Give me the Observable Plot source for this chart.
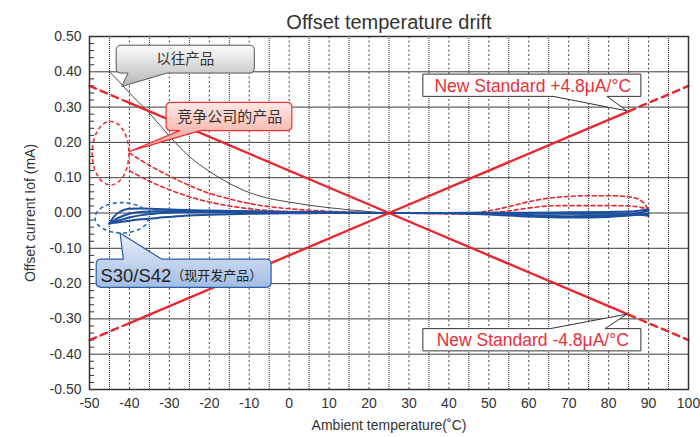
<!DOCTYPE html>
<html><head><meta charset="utf-8">
<script src="https://cdn.jsdelivr.net/npm/d3@7"></script>
<script src="https://cdn.jsdelivr.net/npm/@observablehq/plot@0.6"></script>
<style>
body{margin:0;background:#fff;}
#chart svg{display:block;}
</style>
</head><body><div id="chart"></div>
<script>
// ---- tick labels ----
const xTicks = [-50,-40,-30,-20,-10,0,10,20,30,40,50,60,70,80,90,100];
const yTicks = [-0.5,-0.4,-0.3,-0.2,-0.1,0,0.1,0.2,0.3,0.4,0.5];
const xGridTens = [-40,-30,-20,-10,0,10,20,30,40,50,60,70,80,90];
const xGridFives = [-45,-35,-25,-15,-5,5,15,25,35,45,55,65,75,85,95];
const yMinor = [-0.48,-0.46,-0.44,-0.42,-0.38,-0.36,-0.34,-0.32,-0.28,-0.26,-0.24,-0.22,-0.18,-0.16,-0.14,-0.12,-0.08,-0.06,-0.04,-0.02,0.02,0.04,0.06,0.08,0.12,0.14,0.16,0.18,0.22,0.24,0.26,0.28,0.32,0.34,0.36,0.38,0.42,0.44,0.46,0.48];

// ---- New Standard ±4.8 µA/°C ----
const stdX = [-50, -40, 25, 85, 100];
const stdPlus = [-0.36, -0.312, 0, 0.288, 0.36];
const stdMinus = [0.36, 0.312, 0, -0.288, -0.36];

// ---- previous product (以往产品) ----
const prevX = [-45,-42,-40,-35,-30,-25,-20,-15,-10,-5,0,5,10,15,20,25,40,60,80,90];
const prevY = [0.40,0.365,0.34,0.283,0.218,0.16,0.118,0.084,0.058,0.041,0.031,0.022,0.015,0.009,0.004,0,0,-0.002,-0.003,-0.002];

// ---- competitor products (竞争公司的产品) ----
const compX = [-40,-35,-30,-25,-20,-15,-10,-5,0,10,25,45,50,55,60,65,70,75,80,85,88,90];
const compA = [0.17,0.135,0.105,0.078,0.056,0.04,0.027,0.018,0.012,0.005,0,0,0.006,0.018,0.032,0.042,0.047,0.049,0.049,0.046,0.036,0.01];
const compB = [0.12,0.09,0.066,0.046,0.031,0.02,0.012,0.007,0.004,0.001,0,-0.003,0,0.006,0.014,0.02,0.021,0.021,0.021,0.02,0.016,0.01];

// ---- S30/S42 ----
const blueX = [-45,-44,-42,-40,-37,-33,-28,-20,-10,0,10,25,40,50,60,70,80,85,90];
const blue1 = [-0.03,-0.012,0.006,0.012,0.013,0.011,0.009,0.007,0.005,0.003,0.002,0,0,-0.002,-0.006,-0.009,-0.008,-0.004,0.006];
const blue2 = [-0.03,-0.022,-0.01,-0.002,0.003,0.005,0.006,0.006,0.004,0.002,0.001,0,0,0,-0.001,-0.002,-0.002,-0.003,-0.008];
const blue3 = [-0.03,-0.026,-0.019,-0.013,-0.006,-0.001,0.002,0.003,0.003,0.002,0.001,0,0,0.001,0.001,0.002,0.003,0.004,0.01];
const blue4 = [-0.03,-0.028,-0.025,-0.022,-0.018,-0.014,-0.009,-0.005,-0.002,-0.001,0,0,-0.001,-0.004,-0.01,-0.013,-0.011,-0.007,-0.003];

// ---- build tables ----
const stdRows = [];
const addStd = (ys, name) => {
  stdX.forEach((x, i) => {
    const y = ys[i];
    if (i <= 1) stdRows.push({x, y, seg: name + "-d1", dashed: true});
    if (i >= 1 && i <= 3) stdRows.push({x, y, seg: name + "-s", dashed: false});
    if (i >= 3) stdRows.push({x, y, seg: name + "-d2", dashed: true});
  });
};
addStd(stdPlus, "plus"); addStd(stdMinus, "minus");
const solidStd = stdRows.filter(d => !d.dashed);
const dashedStd = stdRows.filter(d => d.dashed);
const prevRows = prevX.map((x, i) => ({x, y: prevY[i]}));
const compRows = [...compX.map((x, i) => ({x, y: compA[i], s: "A"})), ...compX.map((x, i) => ({x, y: compB[i], s: "B"}))];
const blueRows = [];
[blue1, blue2, blue3, blue4].forEach((ys, k) => blueX.forEach((x, i) => blueRows.push({x, y: ys[i], s: k})));

const NS = "http://www.w3.org/2000/svg";
const el = (tag, attrs) => { const e = document.createElementNS(NS, tag); for (const k in attrs) e.setAttribute(k, attrs[k]); return e; };

function defsMark() {
  const defs = el("defs", {});
  const grads = [
    ["gGray", "#fdfdfd", "#b5b5b5"],
    ["gRed", "#fde9e5", "#f29a8c"],
    ["gBlue", "#e8f0fa", "#a3bde3"]
  ];
  for (const [id, a, b] of grads) {
    const g = el("linearGradient", {id, x1: 0, y1: 0, x2: 0, y2: 1});
    g.appendChild(el("stop", {offset: "0", "stop-color": a}));
    g.appendChild(el("stop", {offset: "1", "stop-color": b}));
    defs.appendChild(g);
  }
  return defs;
}

function callout(c) {
  return (index, {x, y}) => {
    const X0 = x(c.x0), X1 = x(c.x1), Y0 = y(c.y0), Y1 = y(c.y1), r = c.r;
    const B1 = x(c.bx1), B2 = x(c.bx2), TX = x(c.tx), TY = y(c.ty);
    let d;
    if (c.side === "bottom") {
      d = `M${X0+r},${Y0}H${X1-r}Q${X1},${Y0} ${X1},${Y0+r}V${Y1-r}Q${X1},${Y1} ${X1-r},${Y1}H${B2}L${TX},${TY}L${B1},${Y1}H${X0+r}Q${X0},${Y1} ${X0},${Y1-r}V${Y0+r}Q${X0},${Y0} ${X0+r},${Y0}Z`;
    } else {
      d = `M${X0+r},${Y0}H${B1}L${TX},${TY}L${B2},${Y0}H${X1-r}Q${X1},${Y0} ${X1},${Y0+r}V${Y1-r}Q${X1},${Y1} ${X1-r},${Y1}H${X0+r}Q${X0},${Y1} ${X0},${Y1-r}V${Y0+r}Q${X0},${Y0} ${X0+r},${Y0}Z`;
    }
    return el("path", {d, fill: c.fill, stroke: c.stroke, "stroke-width": c.sw, "stroke-linejoin": "round"});
  };
}

function ellipse(c) {
  return (index, {x, y}) => {
    const cx = x(c.cx), cy = y(c.cy);
    const rx = Math.abs(x(c.cx + c.rx) - cx), ry = Math.abs(y(c.cy + c.ry) - cy);
    return el("ellipse", {cx, cy, rx, ry, fill: "none", stroke: c.stroke, "stroke-width": 1.6, "stroke-dasharray": "4,3"});
  };
}

const latin = "'Liberation Sans', Arial, Helvetica, sans-serif";
const cjk = "'Noto Sans CJK SC', 'Liberation Sans', sans-serif";
const red = "#e8262e";
const blue = "#1c4f9e";

const chart = Plot.plot({
  width: 700, height: 437,
  marginLeft: 89, marginRight: 12, marginTop: 36, marginBottom: 48,
  style: {fontFamily: latin, fontSize: "14px", color: "#333", background: "#fff"},
  x: {domain: [-50, 100]},
  y: {domain: [-0.5, 0.5]},
  marks: [
    defsMark,
    // grid
    Plot.ruleX(xGridTens, {stroke: "#444", strokeWidth: 1, strokeDasharray: "2,2.5"}),
    Plot.ruleX(xGridFives, {stroke: "#222", strokeWidth: 1, strokeDasharray: "1,1"}),
    Plot.ruleY(yTicks.filter(v => Math.abs(v) < 0.45), {stroke: "#3a3a3a", strokeWidth: 1}),
    Plot.ruleY(yMinor, {x1: -50, x2: -48.7, stroke: "#333", strokeWidth: 1}),
    // axes
    Plot.axisX({ticks: xTicks, tickSize: 0, tickPadding: 9, tickFormat: d => String(d), label: null, fill: "#333"}),
    Plot.axisY({ticks: yTicks, tickSize: 0, tickPadding: 8, tickFormat: d => d.toFixed(2), label: null, fill: "#333"}),
    // data
    Plot.line(prevRows, {x: "x", y: "y", stroke: "#333", strokeWidth: 0.9, curve: "monotone-x"}),
    Plot.line(compRows, {x: "x", y: "y", z: "s", stroke: red, strokeWidth: 1.6, strokeDasharray: "4,3", curve: "monotone-x"}),
    Plot.line(blueRows, {x: "x", y: "y", z: "s", stroke: blue, strokeWidth: 2, curve: "monotone-x"}),
    Plot.line(solidStd, {x: "x", y: "y", z: "seg", stroke: red, strokeWidth: 2.4}),
    Plot.line(dashedStd, {x: "x", y: "y", z: "seg", stroke: red, strokeWidth: 2.4, strokeDasharray: "7,5"}),
    Plot.frame({stroke: "#333", strokeWidth: 1.5}),
    // ellipses
    ellipse({cx: -44.6, cy: 0.168, rx: 4.6, ry: 0.09, stroke: "#e8303a"}),
    ellipse({cx: -41.8, cy: -0.015, rx: 6.7, ry: 0.043, stroke: "#2a6ac0"}),
    // callouts
    callout({x0: -43.2, x1: -8.6, y0: 0.474, y1: 0.395, r: 5, side: "bottom", bx1: -40.2, bx2: -30.5, tx: -41.8, ty: 0.357, fill: "url(#gGray)", stroke: "#555", sw: 1}),
    callout({x0: -30.7, x1: 0.8, y0: 0.312, y1: 0.232, r: 5, side: "bottom", bx1: -27.3, bx2: -22.2, tx: -39.9, ty: 0.173, fill: "url(#gRed)", stroke: "#e8303a", sw: 1.2}),
    callout({x0: -48.2, x1: -4.4, y0: -0.132, y1: -0.212, r: 5, side: "top", bx1: -41.4, bx2: -31.8, tx: -42.2, ty: -0.059, fill: "url(#gBlue)", stroke: "#2a5ca8", sw: 1.2}),
    callout({x0: 33.6, x1: 88.2, y0: 0.392, y1: 0.329, r: 0, side: "bottom", bx1: 66.2, bx2: 79.7, tx: 84.7, ty: 0.288, fill: "#fff", stroke: "#333", sw: 1}),
    callout({x0: 33.6, x1: 88.2, y0: -0.329, y1: -0.392, r: 0, side: "top", bx1: 65.5, bx2: 79.2, tx: 84.7, ty: -0.288, fill: "#fff", stroke: "#333", sw: 1}),
    // callout texts
    Plot.text(["以往产品"], {x: -26, y: 0.434, fontFamily: cjk, fontSize: 14.5, fill: "#333"}),
    Plot.text(["竞争公司的产品"], {x: -14.9, y: 0.272, fontFamily: cjk, fontSize: 15, fill: "#333"}),
    Plot.text(["S30/S42"], {x: -29.5, y: -0.178, textAnchor: "end", fontFamily: latin, fontSize: 18.5, fill: "#222"}),
    Plot.text(["（现开发产品）"], {x: -29.5, y: -0.178, textAnchor: "start", fontFamily: cjk, fontSize: 13, fill: "#222"}),
    Plot.text(["New Standard +4.8μA/°C"], {x: 61, y: 0.36, fontFamily: latin, fontSize: 17.5, fill: "#e8303a"}),
    Plot.text(["New Standard -4.8μA/°C"], {x: 61, y: -0.36, fontFamily: latin, fontSize: 17.5, fill: "#e8303a"}),
    // titles
    Plot.text(["Offset temperature drift"], {frameAnchor: "top", lineAnchor: "middle", dy: -14, fontSize: 20, fill: "#333"}),
    Plot.text(["Ambient temperature(˚C)"], {frameAnchor: "bottom", lineAnchor: "middle", dy: 36, fontSize: 14, fill: "#333"}),
    Plot.text(["Offset current Iof (mA)"], {frameAnchor: "left", textAnchor: "middle", lineAnchor: "middle", dx: -59, rotate: -90, fontSize: 14, fill: "#333"})
  ]
});
document.getElementById("chart").appendChild(chart);
</script>
</body></html>
